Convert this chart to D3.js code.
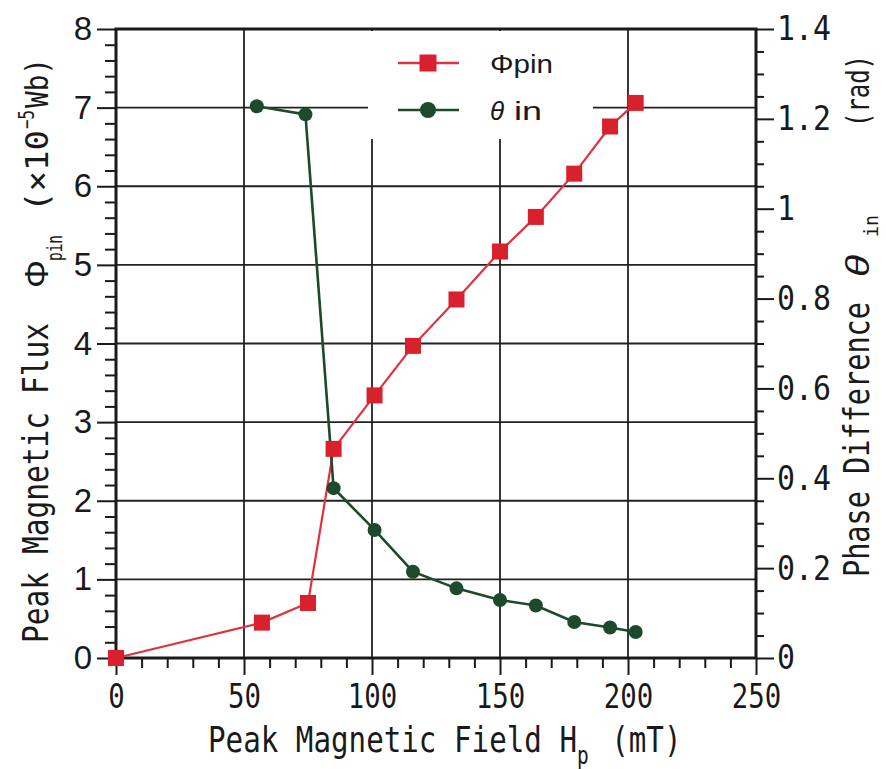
<!DOCTYPE html>
<html>
<head>
<meta charset="utf-8">
<script src="https://cdn.jsdelivr.net/npm/d3@7"></script>
<style>
  body { margin: 0; background: #fff; }
  svg { display: block; }
</style>
</head>
<body>
<svg id="chart" width="886" height="769"></svg>
<script>
// Peak magnetic flux Φpin (×10^-5 Wb) vs peak magnetic field Hp (mT)
const fieldPhi = [0, 57, 75, 85, 101, 116, 133, 150, 164, 179, 193, 203];
const fluxPhi = [0, 0.45, 0.70, 2.66, 3.34, 3.97, 4.56, 5.17, 5.61, 6.16, 6.76, 7.06];

// Phase difference θin (rad) vs peak magnetic field Hp (mT)
const fieldTheta = [55, 74, 85, 101, 116, 133, 150, 164, 179, 193, 203];
const phaseTheta = [1.228, 1.21, 0.378, 0.285, 0.192, 0.155, 0.129, 0.117, 0.080, 0.068, 0.058];

// Axis ticks
const xTicks = [0, 50, 100, 150, 200, 250];
const xMinorTicks = d3.range(0, 251, 10).filter(v => v % 50 !== 0);
const leftTicks = [0, 1, 2, 3, 4, 5, 6, 7, 8];
const leftMinorTicks = d3.range(0, 40).map(i => i * 0.2).filter((v, i) => i % 5 !== 0);
const rightTicks = [0, 0.2, 0.4, 0.6, 0.8, 1, 1.2, 1.4];
const rightMinorTicks = d3.range(0, 28).map(i => i * 0.05).filter((v, i) => i % 4 !== 0);

const RED = "#d9202d";
const RED_LINE = "#e0323e";
const GREEN = "#1c4a2b";
const INK = "#1a1a1a";
const MONO = "'DejaVu Sans Mono', 'Liberation Mono', monospace";
const SANS = "'Liberation Sans', Arial, sans-serif";

const svg = d3.select("#chart");

const plot = { left: 116, right: 756, top: 29, bottom: 658 };

const x = d3.scaleLinear().domain([0, 250]).range([plot.left, plot.right]);
const yL = d3.scaleLinear().domain([0, 8]).range([plot.bottom, plot.top]);
const yR = d3.scaleLinear().domain([0, 1.4]).range([plot.bottom, plot.top]);

// grid
const grid = svg.append("g").attr("stroke", "#222").attr("stroke-width", 1.8);
grid.selectAll("line.v").data(xTicks.filter(v => v > 0 && v < 250)).join("line")
  .attr("x1", d => x(d)).attr("x2", d => x(d))
  .attr("y1", plot.top).attr("y2", plot.bottom);
grid.selectAll("line.h").data(leftTicks.filter(v => v > 0 && v < 8)).join("line")
  .attr("x1", plot.left).attr("x2", plot.right)
  .attr("y1", d => yL(d)).attr("y2", d => yL(d));

// legend panel covers the grid beneath it
const legendBox = { x: 368, y: 31, w: 225, h: 108 };
svg.append("rect")
  .attr("x", legendBox.x).attr("y", legendBox.y)
  .attr("width", legendBox.w).attr("height", legendBox.h)
  .attr("fill", "#fff");

// axes
function styleAxis(g, fontFamily, fontSize, charW) {
  g.select(".domain").remove();
  g.selectAll(".tick line").attr("stroke", INK).attr("stroke-width", 2);
  g.selectAll(".tick text")
    .attr("fill", INK)
    .style("font-family", fontFamily)
    .style("font-size", fontSize + "px");
  if (charW) {
    g.selectAll(".tick text").each(function () {
      const t = d3.select(this);
      const n = t.text().length;
      if (n) t.attr("textLength", n * charW).attr("lengthAdjust", "spacingAndGlyphs");
    });
  }
}

// bottom
const gx = svg.append("g").attr("transform", `translate(0,${plot.bottom})`);
gx.call(d3.axisBottom(x).tickValues(xTicks).tickSize(17).tickPadding(9).tickFormat(d3.format("d")));
styleAxis(gx, MONO, 34, 16.5);
const gxm = svg.append("g").attr("transform", `translate(0,${plot.bottom})`);
gxm.call(d3.axisBottom(x).tickValues(xMinorTicks).tickSize(10).tickFormat(""));
styleAxis(gxm, MONO, 10);

// left
const gl = svg.append("g").attr("transform", `translate(${plot.left},0)`);
gl.call(d3.axisLeft(yL).tickValues(leftTicks).tickSize(19).tickPadding(5).tickFormat(d3.format("d")));
styleAxis(gl, SANS, 33);
const glm = svg.append("g").attr("transform", `translate(${plot.left},0)`);
glm.call(d3.axisLeft(yL).tickValues(leftMinorTicks).tickSize(11).tickFormat(""));
styleAxis(glm, SANS, 10);

// right
const gr = svg.append("g").attr("transform", `translate(${plot.right},0)`);
gr.call(d3.axisRight(yR).tickValues(rightTicks).tickSize(18).tickPadding(3).tickFormat(d3.format("~g")));
styleAxis(gr, MONO, 34, 18);
const grm = svg.append("g").attr("transform", `translate(${plot.right},0)`);
grm.call(d3.axisRight(yR).tickValues(rightMinorTicks).tickSize(8).tickFormat(""));
styleAxis(grm, MONO, 10);

// frame
svg.append("rect")
  .attr("x", plot.left).attr("y", plot.top)
  .attr("width", plot.right - plot.left).attr("height", plot.bottom - plot.top)
  .attr("fill", "none").attr("stroke", INK).attr("stroke-width", 3);

// series
const phiData = fieldPhi.map((h, i) => ({ h, v: fluxPhi[i] }));
const thetaData = fieldTheta.map((h, i) => ({ h, v: phaseTheta[i] }));

svg.append("path").datum(phiData)
  .attr("fill", "none").attr("stroke", RED_LINE).attr("stroke-width", 2.2)
  .attr("d", d3.line().x(d => x(d.h)).y(d => yL(d.v)));
svg.append("path").datum(thetaData)
  .attr("fill", "none").attr("stroke", GREEN).attr("stroke-width", 2.6)
  .attr("d", d3.line().x(d => x(d.h)).y(d => yR(d.v)));

const sq = 16;
svg.append("g").selectAll("rect").data(phiData).join("rect")
  .attr("x", d => x(d.h) - sq / 2).attr("y", d => yL(d.v) - sq / 2)
  .attr("width", sq).attr("height", sq).attr("fill", RED);
svg.append("g").selectAll("circle").data(thetaData).join("circle")
  .attr("cx", d => x(d.h)).attr("cy", d => yR(d.v)).attr("r", 7)
  .attr("fill", GREEN);

// axis title / legend text helper
function label(g, txt, opts) {
  const t = g.append("text")
    .attr("x", opts.x).attr("y", opts.y)
    .style("font-family", opts.font || MONO)
    .style("font-size", opts.size + "px")
    .style("font-style", opts.italic ? "italic" : "normal")
    .attr("fill", INK)
    .text(txt);
  if (opts.len) t.attr("textLength", opts.len).attr("lengthAdjust", "spacingAndGlyphs");
  return t;
}

// legend
const lg = svg.append("g");
lg.append("line").attr("x1", 398).attr("x2", 459).attr("y1", 63).attr("y2", 63)
  .attr("stroke", RED_LINE).attr("stroke-width", 2.5);
lg.append("rect").attr("x", 428 - 8.5).attr("y", 63 - 8.5).attr("width", 17).attr("height", 17)
  .attr("fill", RED);
lg.append("line").attr("x1", 398).attr("x2", 459).attr("y1", 110).attr("y2", 110)
  .attr("stroke", GREEN).attr("stroke-width", 2.5);
lg.append("circle").attr("cx", 428).attr("cy", 110).attr("r", 8).attr("fill", GREEN);
label(lg, "Φpin", { x: 490, y: 73, size: 25, font: SANS, len: 63 });
label(lg, "θ", { x: 490, y: 120, size: 26, font: SANS, italic: true });
label(lg, "in", { x: 514, y: 120, size: 25, font: SANS, len: 28 });

// x title: one condensed text line with a subscript
const xt = svg.append("g").attr("transform", "translate(208,752) scale(0.811,1)");
const xText = xt.append("text")
  .style("font-family", MONO).style("font-size", "36px").attr("fill", INK);
xText.append("tspan").text("Peak Magnetic Field H");
xText.append("tspan").attr("dy", 12).style("font-size", "24px").text("p");
xText.append("tspan").attr("dy", -12).attr("dx", 6).text(" (mT)");

// left title (rotated; local x runs upward from the anchor)
const ltG = svg.append("g").attr("transform", "translate(48,643) rotate(-90)");
label(ltG, "Peak Magnetic Flux", { x: 0, y: 0, size: 36, len: 320 });
label(ltG, "Φ", { x: 355, y: 0, size: 34, font: SANS, len: 28 });
label(ltG, "pin", { x: 382, y: 14, size: 22, len: 26 });
label(ltG, "(×10", { x: 431, y: 0, size: 32, len: 82 });
label(ltG, "−5", { x: 514, y: -14, size: 21, len: 19 });
label(ltG, "Wb)", { x: 535, y: 0, size: 32, len: 50 });

// right title
const rtG = svg.append("g").attr("transform", "translate(869,577) rotate(-90)");
label(rtG, "Phase Difference", { x: 0, y: 0, size: 36, len: 275 });
label(rtG, "θ", { x: 300, y: 0, size: 34, font: SANS, italic: true, len: 22 });
label(rtG, "in", { x: 340, y: 9, size: 20, len: 22 });
label(rtG, "(rad)", { x: 450, y: 0, size: 32, len: 72 });
</script>
</body>
</html>
